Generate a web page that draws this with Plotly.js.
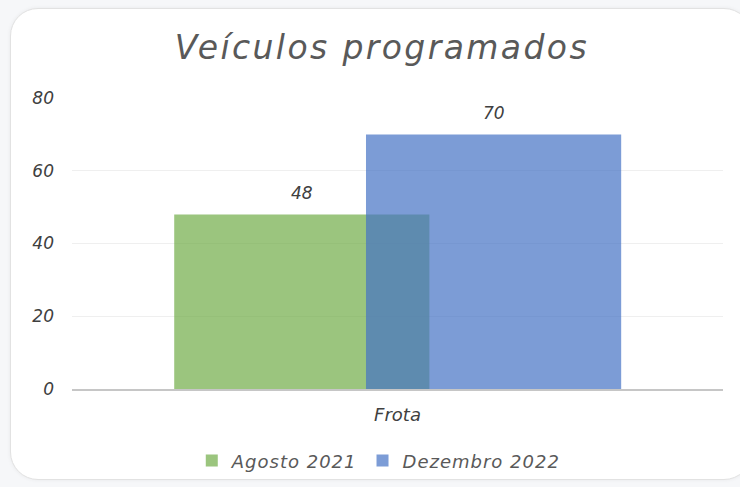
<!DOCTYPE html>
<html>
<head>
<meta charset="utf-8">
<script src="https://cdn.plot.ly/plotly-3.0.1.min.js"></script>
<style>
  html, body { margin:0; padding:0; width:740px; height:487px; overflow:hidden; background:#f6f7f9; }
  #card { position:absolute; left:10px; top:8px; width:740px; height:470px; background:#fff; border:1px solid #e2e2e2; border-radius:28px; box-shadow:0 0 4px rgba(0,0,0,0.06); }
  #chart { position:absolute; left:0; top:0; width:740px; height:487px; }
  text.gtitle { letter-spacing: 2.4px; }
  text.legendtext { letter-spacing: 1px; }
</style>
</head>
<body>
<div id="card"></div>
<div id="chart"></div>
<script>
const categories = ["Frota"];
const seriesNames = ["Agosto 2021", "Dezembro 2022"];
const agosto2021 = [48];
const dezembro2022 = [70];
const yTicks = [0, 20, 40, 60, 80];

const numFont = {family: "'DejaVu Sans', sans-serif", size: 17, color: "#404040", style: "italic"};

const traces = [
  {type: "bar", name: seriesNames[0], x: categories, y: agosto2021,
   width: 0.392, offset: -0.343,
   marker: {color: "rgba(112,173,71,0.7)"}, hoverinfo: "skip"},
  {type: "bar", name: seriesNames[1], x: categories, y: dezembro2022,
   width: 0.392, offset: -0.0484,
   marker: {color: "rgba(68,114,196,0.7)"}, hoverinfo: "skip"}
];

// data labels above each bar, placed through the axes
const annotations = [];
[[agosto2021, -0.343], [dezembro2022, -0.0484]].forEach(([vals, off]) => {
  vals.forEach((v, i) => {
    annotations.push({x: i + off + 0.196, y: v, xref: "x", yref: "y", text: String(v),
      showarrow: false, yanchor: "middle", xanchor: "center", yshift: 21, font: numFont});
  });
});

const layout = {
  width: 740, height: 487,
  paper_bgcolor: "rgba(0,0,0,0)", plot_bgcolor: "rgba(0,0,0,0)",
  margin: {l: 72, r: 17, t: 98, b: 98, autoexpand: false},
  barmode: "overlay",
  showlegend: true,
  annotations: annotations,
  title: {text: "Veículos programados", x: 0.516, xanchor: "center", y: 0.903, yanchor: "middle",
          font: {family: "'DejaVu Sans', sans-serif", size: 33, color: "#595959", style: "italic"}},
  xaxis: {type: "category", range: [-0.5, 0.5], showgrid: false, zeroline: false, showline: true,
          linecolor: "#c6c6c6", linewidth: 2, ticks: "",
          tickfont: {family: "'DejaVu Sans', sans-serif", size: 18, color: "#404040", style: "italic"},
          ticklabelstandoff: 8},
  yaxis: {range: [0, 80], tickvals: yTicks, ticktext: yTicks.map(String),
          showgrid: true, gridcolor: "#efefef", gridwidth: 1, zeroline: false, showline: false,
          ticks: "", tickfont: numFont, ticklabelstandoff: 17},
  legend: {orientation: "h", x: 0.184, xanchor: "left", y: -0.247, yanchor: "middle",
           font: {family: "'DejaVu Sans', sans-serif", size: 18, color: "#595959", style: "italic"},
           traceorder: "normal"},
  font: {family: "'DejaVu Sans', sans-serif"}
};

Plotly.newPlot("chart", traces, layout, {displayModeBar: false, staticPlot: true});
</script>
</body>
</html>
